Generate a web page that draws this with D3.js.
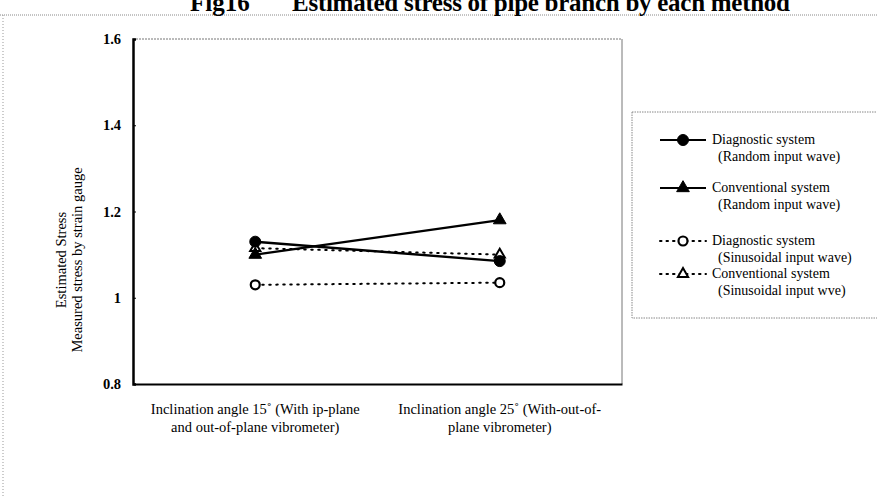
<!DOCTYPE html>
<html>
<head>
<meta charset="utf-8">
<script src="https://cdn.jsdelivr.net/npm/d3@7"></script>
<style>
  body { margin: 0; background: #fff; }
  svg { display: block; font-family: "Liberation Serif", "DejaVu Serif", serif; }
</style>
</head>
<body>
<svg width="877" height="497"></svg>
<script>
  var categories = ["c15", "c25"];
  var categoryLabels = [
    ["Inclination angle 15\u02da (With ip-plane", "and out-of-plane vibrometer)"],
    ["Inclination angle 25\u02da (With-out-of-", "plane vibrometer)"]
  ];
  var yTicks = [0.8, 1, 1.2, 1.4, 1.6];

  // values
  var diagRandom = [1.13, 1.085];
  var convRandom = [1.10, 1.18];
  var diagSine = [1.03, 1.035];
  var convSine = [1.115, 1.10];

  var seriesNames = [
    ["Diagnostic system", "(Random input wave)"],
    ["Conventional system", "(Random input wave)"],
    ["Diagnostic system", "(Sinusoidal input wave)"],
    ["Conventional system", "(Sinusoidal input wve)"]
  ];
  var seriesValues = [diagRandom, convRandom, diagSine, convSine];
  var seriesStyle = [
    {marker: "circle", filled: true, dotted: false},
    {marker: "triangle", filled: true, dotted: false},
    {marker: "circle", filled: false, dotted: true},
    {marker: "triangle", filled: false, dotted: true}
  ];

  var svg = d3.select("svg");

  // page borders (scanned page look)
  svg.append("line").attr("x1", 0).attr("x2", 877).attr("y1", 15).attr("y2", 15)
      .attr("stroke", "#888").attr("stroke-dasharray", "1,1");
  svg.append("line").attr("x1", 3).attr("x2", 3).attr("y1", 15).attr("y2", 497)
      .attr("stroke", "#999").attr("stroke-dasharray", "1,2");

  // title, clipped at top as in the scan
  svg.append("text").attr("x", 190).attr("y", 11)
      .attr("font-size", 25).attr("font-weight", "bold").text("Fig16");
  svg.append("text").attr("x", 292).attr("y", 11)
      .attr("font-size", 25).attr("font-weight", "bold")
      .attr("textLength", 498)
      .text("Estimated stress of pipe branch by each method");

  var margin = {left: 133, top: 39, right: 255, bottom: 113};
  var width = 877 - margin.left - margin.right,
      height = 497 - margin.top - margin.bottom;
  var g = svg.append("g").attr("transform", "translate(" + margin.left + "," + margin.top + ")");

  var x = d3.scalePoint().domain(categories).range([0, width]).padding(0.5);
  var y = d3.scaleLinear().domain([0.8, 1.6]).range([height, 0]);

  // frame
  g.append("line").attr("x1", 0).attr("x2", width).attr("y1", 0).attr("y2", 0)
      .attr("stroke", "#777").attr("stroke-dasharray", "2,1");
  g.append("line").attr("x1", width).attr("x2", width).attr("y1", 0).attr("y2", height)
      .attr("stroke", "#777");

  g.append("g")
      .attr("transform", "translate(0," + height + ")")
      .call(d3.axisBottom(x).tickSize(0).tickFormat(""))
      .call(function(a) { a.select(".domain").attr("stroke-width", 2); });

  var yAxis = g.append("g")
      .call(d3.axisLeft(y).tickValues(yTicks).tickSize(-3).tickPadding(12)
          .tickFormat(function(d) { return d === 1 ? "1" : d3.format(".1f")(d); }));
  yAxis.select(".domain").attr("stroke-width", 2.5);
  yAxis.selectAll("text").attr("font-size", 14.5).attr("font-weight", "bold")
      .attr("font-family", "Liberation Serif, serif");

  // x labels
  categories.forEach(function(c, i) {
    var t = g.append("text").attr("text-anchor", "middle").attr("font-size", 14.5);
    categoryLabels[i].forEach(function(line, k) {
      t.append("tspan").attr("x", x(c)).attr("y", height + 30 + k * 18).text(line);
    });
  });

  // y title
  var yt = svg.append("text").attr("text-anchor", "middle").attr("font-size", 14.5)
      .attr("transform", "translate(66,260) rotate(-90)");
  yt.append("tspan").attr("x", 0).attr("dy", 0).text("Estimated Stress");
  yt.append("tspan").attr("x", 0).attr("dy", 16).text("Measured stress by strain gauge");

  function drawMarker(sel, style, cx, cy) {
    if (style.marker === "circle") {
      sel.append("circle").attr("cx", cx).attr("cy", cy).attr("r", style.filled ? 5.5 : 4.5)
          .attr("fill", style.filled ? "#000" : "#fff").attr("stroke", "#000")
          .attr("stroke-width", style.filled ? 1 : 2.2);
    } else {
      sel.append("path")
          .attr("d", d3.symbol().type(d3.symbolTriangle).size(style.filled ? 70 : 45)())
          .attr("transform", "translate(" + cx + "," + cy + ")")
          .attr("fill", style.filled ? "#000" : "#fff").attr("stroke", "#000")
          .attr("stroke-width", style.filled ? 1 : 2);
    }
  }

  var line = d3.line()
      .x(function(d, i) { return x(categories[i]); })
      .y(function(d) { return y(d); });

  // draw dotted series first, then solid on top
  [3, 2, 1, 0].forEach(function(s) {
    var st = seriesStyle[s];
    var sg = g.append("g");
    sg.append("path").datum(seriesValues[s])
        .attr("d", line).attr("fill", "none").attr("stroke", "#000")
        .attr("stroke-width", st.dotted ? 2 : 2.4)
        .attr("stroke-dasharray", st.dotted ? "1.5,5.5" : null)
        .attr("stroke-linecap", st.dotted ? "round" : "butt");
    seriesValues[s].forEach(function(v, i) {
      drawMarker(sg, st, x(categories[i]), y(v));
    });
  });

  // legend
  var lg = svg.append("g");
  lg.append("path").attr("d", "M632,112H877M632,112V318H877")
      .attr("fill", "none").attr("stroke", "#888").attr("stroke-dasharray", "1.5,1");
  var legendY = [140, 188, 241, 274];
  seriesNames.forEach(function(nm, s) {
    var st = seriesStyle[s];
    var ly = legendY[s];
    lg.append("line").attr("x1", 660).attr("x2", 706).attr("y1", ly).attr("y2", ly)
        .attr("stroke", "#000").attr("stroke-width", 2)
        .attr("stroke-dasharray", st.dotted ? "1.5,5" : null)
        .attr("stroke-linecap", st.dotted ? "round" : "butt");
    drawMarker(lg, st, 683, ly);
    var t = lg.append("text").attr("font-size", 14);
    t.append("tspan").attr("x", 712).attr("y", ly + 4).text(nm[0]);
    t.append("tspan").attr("x", 718).attr("y", ly + 21).text(nm[1]);
  });
</script>
</body>
</html>
